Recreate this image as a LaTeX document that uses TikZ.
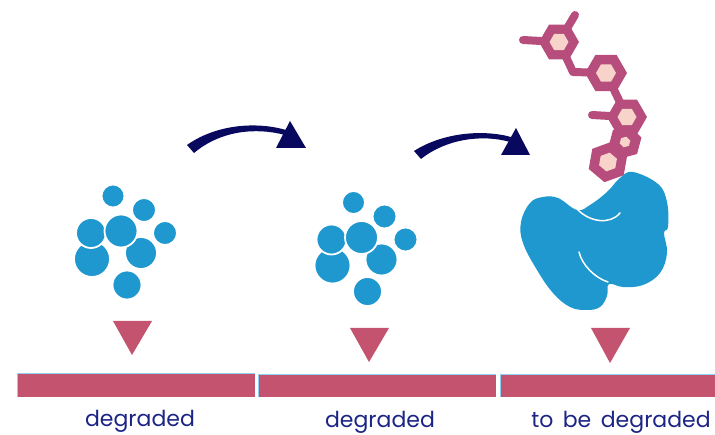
\documentclass[tikz,border=0pt]{standalone}
\usepackage{fontspec}
\setmainfont{Poppins}
\usetikzlibrary{shapes.geometric}

\definecolor{cellblue}{HTML}{1E98CE}
\definecolor{navy}{HTML}{08085E}
\definecolor{rose}{HTML}{C4536F}
\definecolor{mauve}{HTML}{B64D7D}
\definecolor{blush}{HTML}{F7D3C9}
\definecolor{edgeblue}{HTML}{8CD2F0}
\definecolor{labelblue}{HTML}{1C2485}

\tikzset{
  bead/.style={fill=cellblue, draw=white, line width=1.8pt},
  marker/.style={fill=rose},
  strip/.style={fill=rose},
  stripedge/.style={draw=edgeblue, line width=0.7pt},
  lbl/.style={text=labelblue, font=\fontsize{22}{26}\selectfont, anchor=base, inner sep=0pt},
  ring/.style={regular polygon, regular polygon sides=6, fill=mauve, inner sep=0pt, minimum size=#1},
  core/.style={regular polygon, regular polygon sides=6, fill=blush, inner sep=0pt, minimum size=#1},
  bond/.style={draw=mauve, line width=8pt, line cap=round, line join=round},
  pointer/.style={fill=navy},
  enzyme/.style={fill=cellblue},
  groove/.style={draw=white, line width=1.5pt, line cap=round},
  cluster/.pic={
    \path[bead] (92,259) circle (18);
    \path[bead] (91,233) circle (15);
    \path[bead] (141,253) circle (16);
    \path[bead] (121,231) circle (16.5);
    \path[bead] (113,196) circle (11.5);
    \path[bead] (144,210) circle (12);
    \path[bead] (165,233) circle (12);
    \path[bead] (127,285) circle (14.5);
  }
}

\begin{document}
\begin{tikzpicture}[x=1pt, y=-1pt]
\useasboundingbox (0,0) rectangle (715,435);

% bead clusters
\pic at (0,0) {cluster};
\pic at (240.5,6.5) {cluster};

% curved arrows
\path[pointer] (187,145) .. controls (215,125) and (255,121) .. (286,130)
  -- (285,135) .. controls (255,127) and (220,131) .. (194,153) -- cycle;
\path[pointer] (276,148) -- (306,148) -- (290,121) -- cycle;
\path[pointer] (414,151) .. controls (442,133) and (482,129) .. (511,137)
  -- (510,142) .. controls (482,134) and (446,139) .. (421,159) -- cycle;
\path[pointer] (501,155) -- (530,155) -- (516,128) -- cycle;

% molecule bonds
\draw[bond] (559,42) -- (575,15);
\draw[bond] (559,42) -- (523,40);
\draw[bond] (559,42) -- (573,72) -- (606,73);
\draw[bond] (606,73) -- (627,117);
\draw[bond] (627,117) -- (592,115);

% molecule rings
\node[ring=40] (hA) at (559,42) {};
\node[ring=42] (hB) at (606,73) {};
\node[ring=40] (hC) at (627,117) {};
\node[ring=34, shape border rotate=15] (hD) at (625,142) {};
\node[ring=41, shape border rotate=20] (hE) at (608,162) {};
\node[core=19] (cA) at (hA) {};
\node[core=20] (cB) at (hB) {};
\node[core=19] (cC) at (hC) {};
\node[core=11, shape border rotate=15] (cD) at (hD) {};
\node[core=19, shape border rotate=20] (cE) at (hE) {};

% enzyme
\path[enzyme] plot[smooth cycle, tension=0.65] coordinates {
  (633,172) (658,184) (667,202) (668,227) (664,233) (667,253) (660,273)
  (643,285) (623,287) (609,284) (607,296) (600,307) (587,310) (570,307)
  (553,293) (537,270) (523,243) (521,222) (530,203) (543,197) (558,198)
  (577,210) (590,205) (607,192) (620,178)};
\draw[groove] (578,210) .. controls (590,222) and (610,225) .. (620,213);
\draw[groove] (579,252) .. controls (582,265) and (595,278) .. (608,282);

% cleavage markers
\path[marker] (113,321) -- (152,321) -- (132,355) -- cycle;
\path[marker] (350,328) -- (389,328) -- (369,362) -- cycle;
\path[marker] (591,328) -- (630,328) -- (610,363) -- cycle;

% substrate strips
\path[strip] (17,373) rectangle (255,397);
\path[strip] (258,374) rectangle (496,397);
\path[strip] (500,374) rectangle (715,397);
\draw[stripedge] (17,397) -- (17,373) -- (255,373);
\draw[stripedge] (258,397) -- (258,374) -- (496,374);
\draw[stripedge] (500,397) -- (500,374) -- (715,374);

% labels
\node[lbl] (l1) at (140,427) {degraded};
\node[lbl] (l2) at (380,428) {degraded};
\node[lbl] (l3) at (621,428) {to\hspace{9.5pt}be\hspace{9.5pt}degraded};
\end{tikzpicture}
\end{document}
